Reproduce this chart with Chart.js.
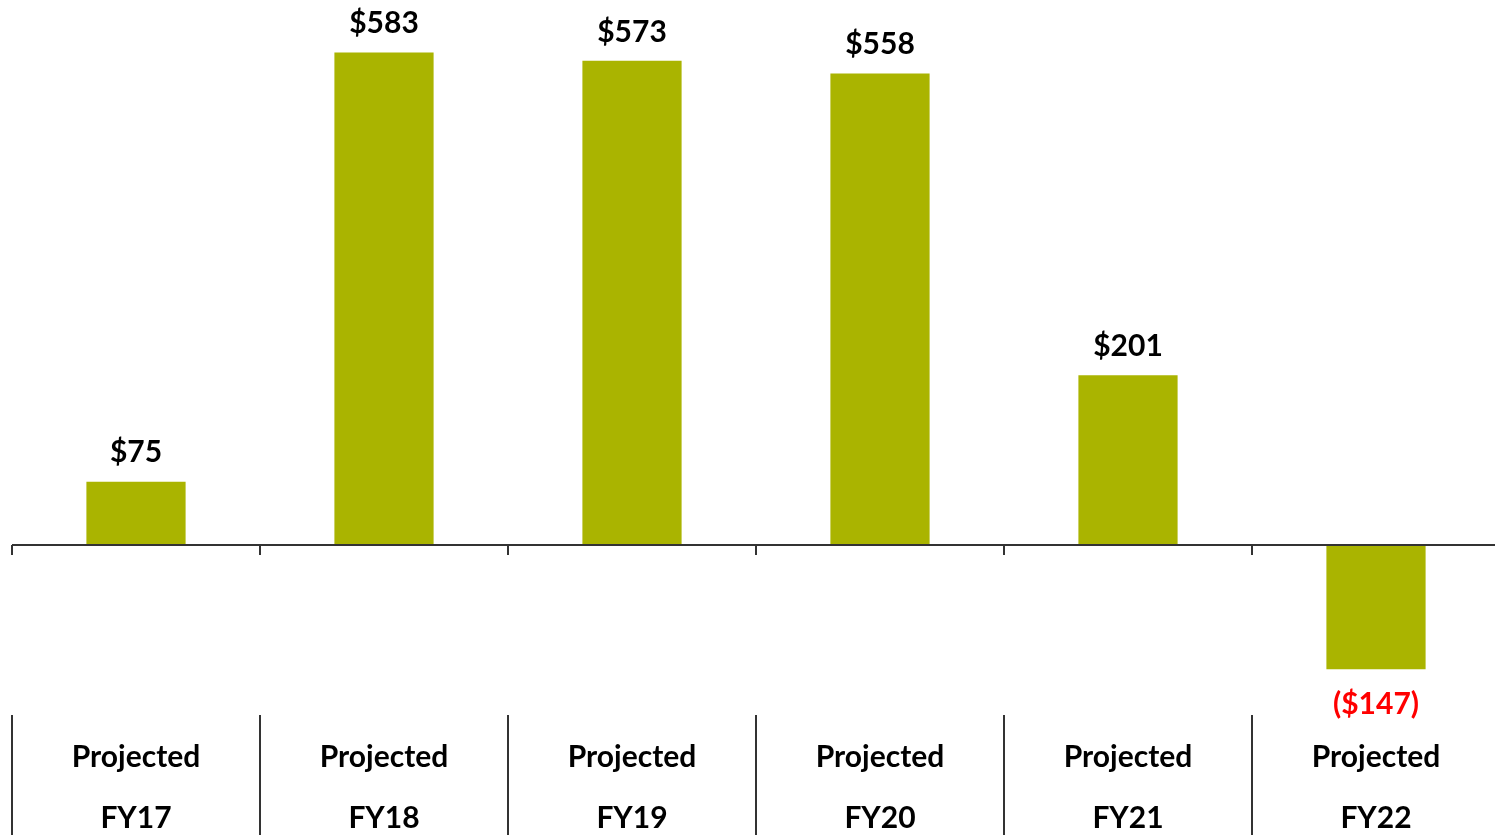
<!DOCTYPE html>
<html>
<head>
<meta charset="utf-8">
<script src="https://cdn.jsdelivr.net/npm/chart.js@4"></script>
<style>
  html, body { margin: 0; padding: 0; background: #fff; overflow: hidden; }
  #wrap { width: 1500px; height: 835px; }
</style>
</head>
<body>
<div id="wrap"><canvas id="chart"></canvas></div>
<script>
const years = ["FY17", "FY18", "FY19", "FY20", "FY21", "FY22"];
const prefix = "Projected";
const values = [75, 583, 573, 558, 201, -147];
const valueLabels = ["$75", "$583", "$573", "$558", "$201", "($147)"];

const FONT = "Lato, 'Open Sans', sans-serif";
const BAR = "#aab400";

// zero line, boundary ticks, column separators, value and category labels
const decorations = {
    id: "decorations",
    afterDatasetsDraw(chart) {
        const { ctx, chartArea, scales } = chart;
        const x = scales.x;
        const y = scales.y;
        const zero = Math.round(y.getPixelForValue(0));
        const half = (x.getPixelForValue(1) - x.getPixelForValue(0)) / 2;

        ctx.save();
        ctx.strokeStyle = "#333";
        ctx.lineWidth = 2;
        ctx.beginPath();
        ctx.moveTo(chartArea.left, zero);
        ctx.lineTo(chartArea.right, zero);
        for (let i = 0; i <= years.length; i++) {
            const bx = Math.round(x.getPixelForValue(i) - half);
            ctx.moveTo(bx, zero);
            ctx.lineTo(bx, zero + 10);
            ctx.moveTo(bx, chartArea.bottom + 1);
            ctx.lineTo(bx, chart.height);
        }
        ctx.stroke();

        ctx.textAlign = "center";
        ctx.textBaseline = "middle";
        ctx.font = "bold 30px " + FONT;
        const meta = chart.getDatasetMeta(0);
        meta.data.forEach((bar, i) => {
            const v = values[i];
            if (v >= 0) {
                ctx.fillStyle = "#000";
                ctx.fillText(valueLabels[i], bar.x, bar.y - 29);
            } else {
                ctx.fillStyle = "#ff0000";
                ctx.fillText(valueLabels[i], bar.x, bar.y + 35);
            }
        });

        ctx.fillStyle = "#000";
        years.forEach((yr, i) => {
            const cx = x.getPixelForValue(i);
            ctx.fillText(prefix, cx, 757);
            ctx.fillText(yr, cx, 818);
        });
        ctx.restore();
    }
};

new Chart(document.getElementById("chart"), {
    type: "bar",
    data: {
        labels: years,
        datasets: [
            {
                data: values,
                backgroundColor: BAR,
                borderWidth: 0,
                barPercentage: 0.4,
                categoryPercentage: 1,
            },
        ],
    },
    options: {
        responsive: true,
        maintainAspectRatio: false,
        animation: false,
        layout: { padding: { left: 12, right: 0, top: 0, bottom: 121 } },
        plugins: {
            legend: { display: false },
            tooltip: { enabled: false },
        },
        scales: {
            x: { display: false },
            y: { display: false, min: -200, max: 645 },
        },
    },
    plugins: [decorations],
});
</script>
</body>
</html>
